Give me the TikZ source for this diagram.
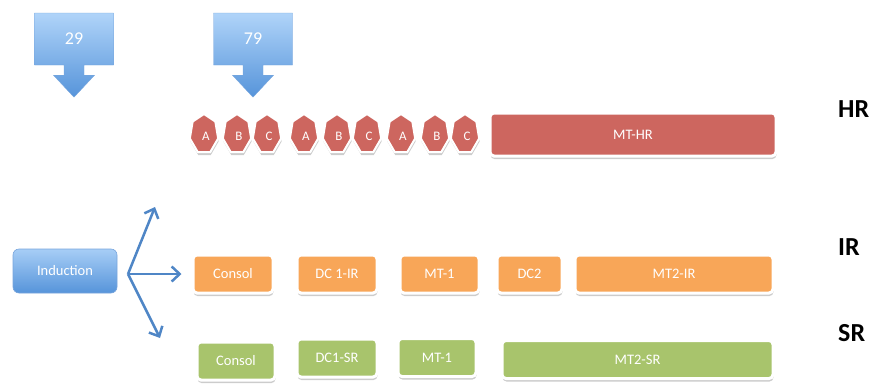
\documentclass[tikz,border=0pt]{standalone}
\usepackage{fontspec}
\setmainfont{Carlito}
\usetikzlibrary{shapes, shapes.arrows, arrows.meta, shadows}
\definecolor{hrred}{RGB}{205, 102, 95}
\definecolor{irorange}{RGB}{248, 166, 88}
\definecolor{srgreen}{RGB}{168, 196, 108}
\definecolor{bluetop}{RGB}{176, 212, 249}
\definecolor{bluebot}{RGB}{86, 148, 218}
\definecolor{blueedge}{RGB}{120, 165, 220}
\definecolor{fanblue}{RGB}{79, 134, 198}

\begin{document}
\begin{tikzpicture}[
   x=1pt, y=-1pt,
   boxshadow/.style={drop shadow={shadow xshift=0.5pt, shadow yshift=-3pt,
                     opacity=0.2, fill=black}},
   tagbox/.style={shape=arrow box, arrow box arrows={south:32pt from border},
                  arrow box shaft width=20pt, arrow box head extend=10.5pt,
                  arrow box tip angle=86, top color=bluetop, bottom color=bluebot,
                  draw=blueedge, line width=0.4, text=white, inner sep=0,
                  minimum width=79, minimum height=52,
                  font=\fontsize{18}{20}\selectfont},
   induct/.style={rectangle, rounded corners=6, top color=bluetop!90!bluebot,
                  bottom color=bluebot, draw=blueedge, line width=0.6,
                  text=white, minimum width=104, minimum height=44,
                  font=\fontsize{14.5}{16}\selectfont},
   phase/.style={rectangle, rounded corners=4, draw=white, line width=3,
                 boxshadow, text=white, inner sep=0, minimum height=38,
                 font=\fontsize{14.5}{16}\selectfont},
   cell/.style={fill=hrred, draw=white, line width=2, boxshadow},
   celltext/.style={text=white, inner sep=0, font=\fontsize{13}{14}\selectfont},
   level/.style={anchor=base west, inner sep=0, font=\fontsize{26}{28}\selectfont\bfseries},
   fan/.style={-{Straight Barb[length=8pt, width=15pt]}, color=fanblue, line width=2.5}
  ]

  \useasboundingbox (0, 0) rectangle (875, 383);

  % Day markers
  \node (d29) at (74, 39) [tagbox] {29};
  \node (d79) at (253, 39) [tagbox] {79};

  % HR row
  \foreach \cx/\lt [count=\i] in {204/A, 237/B, 267/C, 304/A, 337/B, 367/C, 401/A, 435/B, 465/C} {
    \draw[cell] (\cx, 134) +(90:14.5pt and 20pt)
      \foreach \k in {1,...,6} { -- +(90+\k*360/7:14.5pt and 20pt) } -- cycle;
    \node (cell\i) at (\cx+2, 136) [celltext] {\lt};
  }
  \node (hrMT) at (633, 134.5) [phase, fill=hrred, minimum width=286, minimum height=43] {MT-HR};

  % IR row
  \foreach \n/\cx/\w/\t in {irConsol/233/80/Consol, irDC/337/80/DC 1-IR, irMT/439.5/79/MT-1,
                            irDCtwo/529.5/65/DC2, irMTtwo/674/198/MT2-IR} {
    \node (\n) at (\cx, 274) [phase, fill=irorange, minimum width=\w] {\t};
  }

  % SR row
  \foreach \n/\cx/\cy/\w/\t in {srConsol/236/361/78/Consol, srDC/337/358/80/DC1-SR,
                                srMT/437/357.5/78/MT-1, srMTtwo/637.5/359.5/271/MT2-SR} {
    \node (\n) at (\cx, \cy) [phase, fill=srgreen, minimum width=\w] {\t};
  }

  % Levels
  \node (lvHR) at (838, 117) [level] {HR};
  \node (lvIR) at (838, 255) [level] {IR};
  \node (lvSR) at (838, 341) [level] {SR};

  % Induction and its branches
  \node (ind) at (65, 271) [induct] {Induction};
  \coordinate (fork) at (128, 274);
  \coordinate (toHR) at (155, 207);
  \coordinate (toSR) at (160, 338);
  \draw[fan] (fork) -- (toHR);
  \draw[fan, shorten >=10pt] (fork) -- (fork -| irConsol.west);
  \draw[fan] (fork) -- (toSR);

\end{tikzpicture}
\end{document}
